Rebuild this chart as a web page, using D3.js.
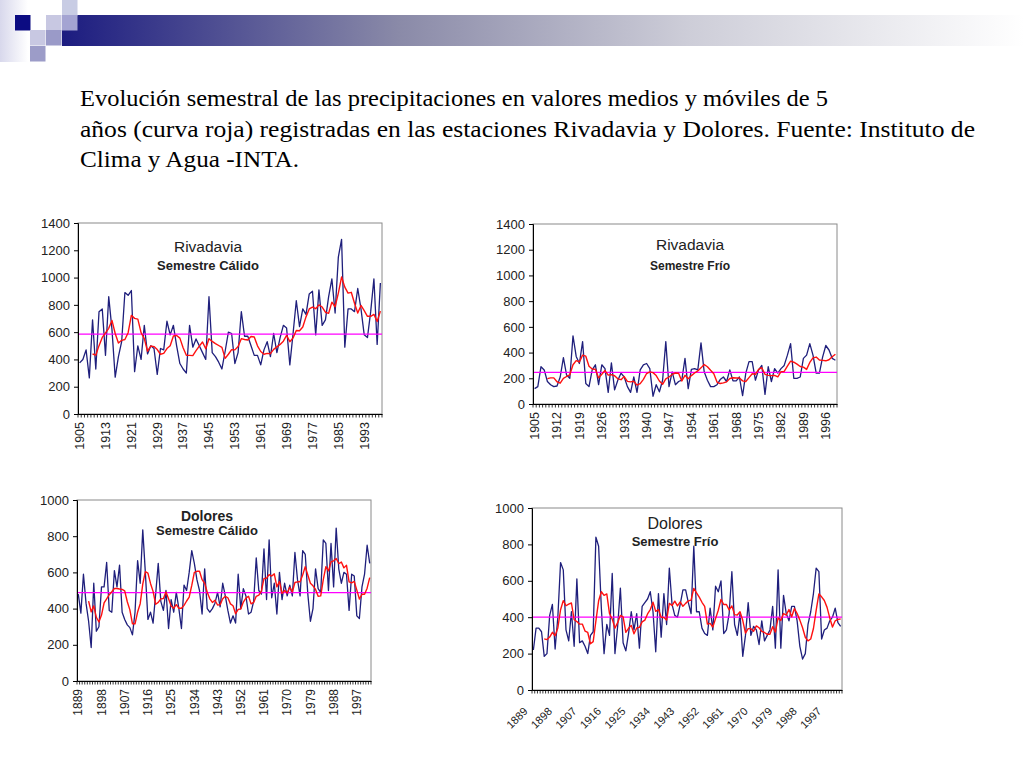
<!DOCTYPE html>
<html>
<head>
<meta charset="utf-8">
<script src="https://cdn.jsdelivr.net/npm/d3@7"></script>
<style>
  body { margin: 0; background: #fff; }
  svg { display: block; }
</style>
</head>
<body>
<svg id="chart" width="1024" height="768"></svg>
<script>
// ---- datos ----
const rivCalidoYears = d3.range(1905, 1999);
const rivCalido = [
  375, 400, 470, 265, 690, 330, 750, 770, 430, 860,
  620, 270, 420, 530, 890, 870, 905, 310, 500, 400,
  650, 440, 500, 480, 290, 480, 470, 680, 580, 650,
  500, 370, 330, 300, 650, 490, 550, 500, 450, 400,
  860, 450, 420, 380, 330, 460, 600, 590, 370, 450,
  750, 570, 570, 500, 430, 430, 360, 470, 530, 420,
  590, 450, 560, 650, 630, 360, 590, 830, 640, 770,
  730, 880, 900, 580, 910, 650, 690, 860, 990, 740,
  1150, 1280, 490, 770, 770, 750, 920, 770, 580, 560,
  750, 990, 510, 960
];
const rivCalidoLabels = [1905, 1913, 1921, 1929, 1937, 1945, 1953, 1961, 1969, 1977, 1985, 1993];

const rivFrioYears = d3.range(1905, 2000);
const rivFrio = [
  120, 135, 290, 265, 175, 150, 135, 140, 210, 360,
  225, 200, 530, 370, 315, 485, 160, 135, 265, 305,
  150, 305, 275, 90, 320, 110, 185, 240, 210, 135,
  90, 210, 90, 265, 305, 315, 275, 60, 150, 95,
  185, 485, 135, 250, 150, 175, 185, 355, 120, 270,
  275, 265, 475, 250, 185, 135, 135, 150, 190, 210,
  175, 265, 180, 180, 210, 65, 240, 330, 330, 185,
  265, 300, 75, 290, 175, 275, 240, 275, 300, 380,
  470, 200, 200, 210, 355, 380, 470, 380, 240, 240,
  365, 455, 420, 355, 340
];
const rivFrioLabels = [1905, 1912, 1919, 1926, 1933, 1940, 1947, 1954, 1961, 1968, 1975, 1982, 1989, 1996];

const dolYears = d3.range(1889, 2003);
const dolCalido = [
  480, 375, 590, 430, 330, 185, 540, 275, 300, 520,
  520, 655, 390, 380, 610, 520, 640, 380, 340, 310,
  295, 255, 380, 665, 540, 835, 600, 340, 380, 320,
  480, 650, 440, 390, 500, 290, 450, 380, 490, 400,
  290, 530, 500, 600, 720, 650, 560, 500, 370, 620,
  400, 380, 400, 430, 490, 410, 540, 470, 390, 320,
  360, 320, 590, 400, 510, 470, 370, 380, 440, 680,
  500, 480, 730, 450, 780, 460, 540, 370, 600, 450,
  540, 470, 530, 470, 710, 560, 470, 720, 700, 480,
  330, 400, 620, 510, 490, 780, 760, 500, 760, 520,
  845, 620, 540, 600, 590, 390, 590, 580, 360, 345,
  520, 590, 750, 650
];
const dolFrio = [
  220, 340, 340, 320, 185, 200, 410, 470, 225, 400,
  700, 660, 330, 270, 430, 240, 610, 260, 270, 240,
  200, 300, 320, 840, 790, 450, 200, 360, 300, 640,
  200, 350, 560, 260, 215, 310, 430, 330, 420, 230,
  460, 480, 500, 540, 430, 210, 530, 290, 530, 360,
  670, 470, 410, 400, 470, 550, 550, 480, 420, 790,
  430, 430, 340, 310, 300, 450, 330, 570, 540, 600,
  310, 330, 420, 650, 360, 300, 420, 185, 300, 480,
  300, 350, 330, 250, 380, 270, 300, 330, 460, 230,
  660, 230, 520, 420, 380, 460, 460, 380, 240, 170,
  200, 360, 430, 530, 670, 650, 280, 330, 340, 380,
  400, 450, 370, 350
];
const dolLabels = [1889, 1898, 1907, 1916, 1925, 1934, 1943, 1952, 1961, 1970, 1979, 1988, 1997];

const meanValues = [585, 246, 488, 400];
const stationNames = ["Rivadavia", "Rivadavia", "Dolores", "Dolores"];
const semesterNames = ["Semestre Cálido", "Semestre Frío", "Semestre Cálido", "Semestre Frío"];
const ticks1400 = [0, 200, 400, 600, 800, 1000, 1200, 1400];
const ticks1000 = [0, 200, 400, 600, 800, 1000];

const svg = d3.select("#chart");
const sans = "'Liberation Sans', Arial, sans-serif";

// ---- cabecera ----
const defs = svg.append("defs");
const grad = defs.append("linearGradient").attr("id", "bar");
grad.append("stop").attr("offset", "0").attr("stop-color", "#1c1c80");
grad.append("stop").attr("offset", "0.35").attr("stop-color", "#8a8aa8");
grad.append("stop").attr("offset", "0.65").attr("stop-color", "#cdcdd8");
grad.append("stop").attr("offset", "1").attr("stop-color", "#ffffff");
const gl = defs.append("linearGradient").attr("id", "leftfade");
gl.append("stop").attr("offset", "0").attr("stop-color", "#d8d8ec");
gl.append("stop").attr("offset", "1").attr("stop-color", "#ffffff");

svg.append("rect").attr("x", 0).attr("y", 0).attr("width", 28).attr("height", 62).attr("fill", "url(#leftfade)");
svg.append("rect").attr("x", 62).attr("y", 15).attr("width", 962).attr("height", 31).attr("fill", "url(#bar)");
[
  [15, 15, "#0c0c82"], [46, 15, "#c8c8e2"], [62, 0, "#c8cce4"], [62, 15, "#a4a4d2"],
  [30, 30, "#c8c8e2"], [46, 30, "#9a9ac8"], [30, 46, "#9c9cc8"]
].forEach(([x, y, c]) => {
  svg.append("rect").attr("x", x).attr("y", y).attr("width", 15.5).attr("height", 15.5).attr("fill", c);
});

// ---- titulo ----
const titleLines = [
  "Evolución semestral de las precipitaciones en valores medios y móviles de 5",
  "años (curva roja) registradas en las estaciones Rivadavia y Dolores. Fuente: Instituto de",
  "Clima y Agua -INTA."
];
const titleWidths = [748, 895, 219];
svg.append("g").selectAll("text").data(titleLines).join("text")
  .attr("x", 80).attr("y", (d, i) => 106 + i * 30.5)
  .attr("font-family", "'Liberation Serif', 'Times New Roman', serif")
  .attr("font-size", 23).attr("fill", "#000")
  .attr("textLength", (d, i) => titleWidths[i])
  .attr("lengthAdjust", "spacingAndGlyphs")
  .text(d => d);

// ---- paneles ----
const panels = [
  { years: rivCalidoYears, values: rivCalido, labels: rivCalidoLabels, yMax: 1400, yTicks: ticks1400,
    left: 78, right: 382, top: 223, bottom: 414, angle: -90, labelSize: 12.5,
    tx: 208, ty: 252, tSize: 15.5, tBold: false, sy: 270, sSize: 13 },
  { years: rivFrioYears, values: rivFrio, labels: rivFrioLabels, yMax: 1400, yTicks: ticks1400,
    left: 533, right: 837, top: 224, bottom: 404, angle: -90, labelSize: 12.5,
    tx: 690, ty: 250, tSize: 15.5, tBold: false, sy: 270, sSize: 12 },
  { years: dolYears, values: dolCalido, labels: dolLabels, yMax: 1000, yTicks: ticks1000,
    left: 77, right: 371, top: 500, bottom: 681, angle: -90, labelSize: 12,
    tx: 207, ty: 521, tSize: 14, tBold: true, sy: 535, sSize: 13 },
  { years: dolYears, values: dolFrio, labels: dolLabels, yMax: 1000, yTicks: ticks1000,
    left: 532, right: 842, top: 508, bottom: 690, angle: -45, labelSize: 11,
    tx: 675, ty: 529, tSize: 16, tBold: false, sy: 546, sSize: 13 }
];

panels.forEach((p, k) => {
  const x = d3.scaleBand().domain(p.years).range([p.left, p.right]);
  const y = d3.scaleLinear().domain([0, p.yMax]).range([p.bottom, p.top]);
  const cx = yr => x(yr) + x.bandwidth() / 2;
  const g = svg.append("g");

  // marco del area de trazado
  g.append("rect")
    .attr("x", p.left).attr("y", p.top)
    .attr("width", p.right - p.left).attr("height", p.bottom - p.top)
    .attr("fill", "#fff").attr("stroke", "#8a8a8a").attr("stroke-width", 1);

  // serie anual
  const line = d3.line().x((d, i) => cx(p.years[i])).y(d => y(d));
  g.append("path").datum(p.values)
    .attr("d", line).attr("fill", "none")
    .attr("stroke", "#1f1f7c").attr("stroke-width", 1.3).attr("stroke-linejoin", "round");

  // media
  g.append("line")
    .attr("x1", p.left).attr("x2", p.right)
    .attr("y1", y(meanValues[k])).attr("y2", y(meanValues[k]))
    .attr("stroke", "#ff00ff").attr("stroke-width", 1.3);

  // media movil de 5 años
  const ma = p.values.map((v, i) => i < 4 ? null : d3.mean(p.values.slice(i - 4, i + 1)));
  const maLine = d3.line().defined(d => d !== null).x((d, i) => cx(p.years[i])).y(d => y(d));
  g.append("path").datum(ma)
    .attr("d", maLine).attr("fill", "none")
    .attr("stroke", "#ff1010").attr("stroke-width", 1.4).attr("stroke-linejoin", "round");

  // eje Y
  const ay = g.append("g")
    .attr("transform", `translate(${p.left},0)`)
    .call(d3.axisLeft(y).tickValues(p.yTicks).tickSize(4).tickPadding(4).tickFormat(d3.format("d")));
  ay.select(".domain").attr("stroke", "#000");
  ay.selectAll(".tick line").attr("stroke", "#000");
  ay.selectAll("text").attr("font-family", sans).attr("font-size", 13).attr("fill", "#222");

  // eje X: marcas de cada año
  g.append("g").selectAll("line").data(p.years.concat([null])).join("line")
    .attr("x1", d => d === null ? p.right : x(d))
    .attr("x2", d => d === null ? p.right : x(d))
    .attr("y1", p.bottom).attr("y2", p.bottom + 3.5)
    .attr("stroke", "#000").attr("stroke-width", 0.8);

  const ax = g.append("g")
    .attr("transform", `translate(0,${p.bottom})`)
    .call(d3.axisBottom(x).tickValues(p.labels).tickSize(0));
  ax.select(".domain").attr("stroke", "#000");
  const lt = ax.selectAll("text")
    .attr("font-family", sans).attr("font-size", p.labelSize).attr("fill", "#222")
    .attr("text-anchor", "end");
  if (p.angle === -90) {
    lt.attr("transform", "rotate(-90)").attr("x", -8).attr("y", 0).attr("dy", "0.35em");
  } else {
    lt.attr("transform", "translate(-5,22) rotate(-45)").attr("x", 0).attr("y", 0).attr("dy", 0);
  }

  // titulos internos
  g.append("text").attr("x", p.tx).attr("y", p.ty)
    .attr("text-anchor", "middle").attr("font-family", sans)
    .attr("font-size", p.tSize).attr("font-weight", p.tBold ? "bold" : "normal")
    .attr("fill", "#222").text(stationNames[k]);
  g.append("text").attr("x", p.tx).attr("y", p.sy)
    .attr("text-anchor", "middle").attr("font-family", sans)
    .attr("font-size", p.sSize).attr("font-weight", "bold")
    .attr("fill", "#222").text(semesterNames[k]);
});
</script>
</body>
</html>
